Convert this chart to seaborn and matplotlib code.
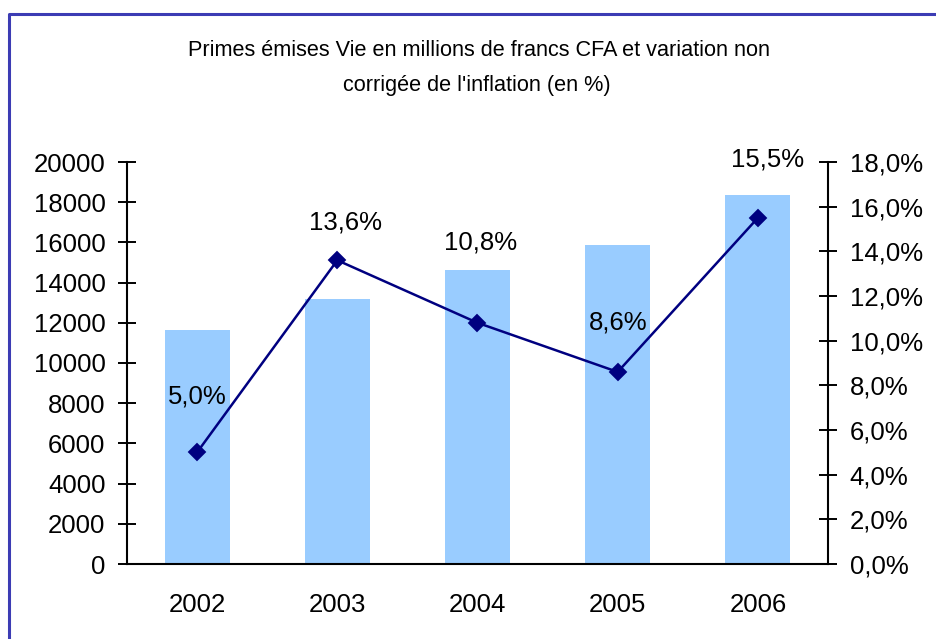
import numpy as np
import pandas as pd
import matplotlib
matplotlib.use("Agg")
import matplotlib.pyplot as plt
from matplotlib.lines import Line2D
from matplotlib.ticker import FuncFormatter, FixedLocator
import seaborn as sns

# Data
years = ["2002", "2003", "2004", "2005", "2006"]
primes = [11650, 13170, 14630, 15870, 18360]        # millions de francs CFA
variation = [5.0, 13.6, 10.8, 8.6, 15.5]            # variation en %
left_ticks = [0, 2000, 4000, 6000, 8000, 10000, 12000, 14000, 16000, 18000, 20000]
right_ticks = [0, 2, 4, 6, 8, 10, 12, 14, 16, 18]
title_lines = ["Primes émises Vie en millions de francs CFA et variation non",
               "corrigée de l'inflation (en %)"]

# Hand-placed offsets (pixels) of the percentage labels relative to their points
label_dx = [0, 8, 3, 0, 10]
label_dy = [56, 38, 80, 49, 58]

sns.set_style("white")
plt.rcParams["font.family"] = ["Liberation Sans", "DejaVu Sans"]

df = pd.DataFrame({"year": years, "primes": primes, "variation": variation})

W, H = 937, 639
fig = plt.figure(figsize=(W / 100, H / 100), dpi=100)
ax = fig.add_axes([127 / W, 1 - 564 / H, (828 - 127) / W, (564 - 162) / H])

sns.barplot(data=df, x="year", y="primes", order=years, color="#99CCFF",
            saturation=1, width=0.464, linewidth=0, ax=ax)

ax2 = ax.twinx()
sns.pointplot(data=df, x="year", y="variation", order=years, color="#000080",
              markers="D", markersize=8, linewidth=1.8, ax=ax2)

for a in (ax, ax2):
    a.set_xlim(-0.5, len(years) - 0.5)
    a.set_xlabel("")
    a.set_ylabel("")
    a.grid(False)
    for s in a.spines.values():
        s.set_visible(False)

ax.set_ylim(0, 20000)
ax2.set_ylim(0, 18)

ax.spines["left"].set_visible(True)
ax.spines["bottom"].set_visible(True)
ax2.spines["right"].set_visible(True)
for s in (ax.spines["left"], ax.spines["bottom"], ax2.spines["right"]):
    s.set_color("black")
    s.set_linewidth(1.5)

tick_fs = 18.5
ax.yaxis.set_major_locator(FixedLocator(left_ticks))
ax.yaxis.set_major_formatter(FuncFormatter(lambda v, p: f"{int(v)}"))
ax.tick_params(axis="y", direction="inout", length=13, width=1.4,
               labelsize=tick_fs, pad=9, colors="black")

ax2.yaxis.set_major_locator(FixedLocator(right_ticks))
ax2.yaxis.set_major_formatter(
    FuncFormatter(lambda v, p: f"{v:.1f}".replace(".", ",") + "%"))
ax2.tick_params(axis="y", direction="inout", length=13, width=1.4,
                labelsize=tick_fs, pad=9, colors="black")

# Category labels centered, tick marks between categories
ax.set_xticks(range(len(years)))
ax.set_xticklabels(years)
ax.set_xticks(np.arange(-0.5, len(years)), minor=True)
ax.tick_params(axis="x", which="major", length=0, labelsize=tick_fs, pad=21,
               colors="black")
ax.tick_params(axis="x", which="minor", direction="inout", length=13, width=1.4,
               colors="black")
ax2.tick_params(axis="x", which="both", length=0)

# Percentage labels
for i, (v, dx, dy) in enumerate(zip(variation, label_dx, label_dy)):
    ax2.annotate(f"{v:.1f}".replace(".", ",") + "%", xy=(i, v),
                 xytext=(dx, dy), textcoords="offset pixels",
                 ha="center", va="center", fontsize=tick_fs, color="black")

# Title
fig.text(479 / W, 1 - 50 / H, title_lines[0], ha="center", va="center",
         fontsize=15.6, color="black")
fig.text(477 / W, 1 - 85 / H, title_lines[1], ha="center", va="center",
         fontsize=15.6, color="black")

# Chart frame (top and left edges)
fig.add_artist(Line2D([9 / W, 9 / W, 1], [0, 1 - 14 / H, 1 - 14 / H],
                      transform=fig.transFigure, color="#3c3cb4", lw=2.2))

fig.savefig("out.png", dpi=100)
